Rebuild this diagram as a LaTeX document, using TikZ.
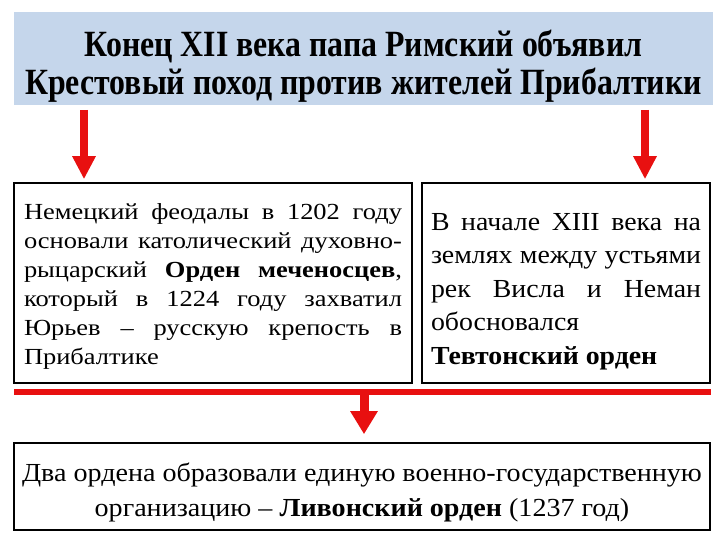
\documentclass[tikz,border=0pt]{standalone}
\usepackage{fontspec}
\setmainfont{Liberation Serif}
\newfontfamily\titlefont[FakeStretch=0.86]{Liberation Serif}
\newfontfamily\boxfont[FakeStretch=1.15]{Liberation Serif}
\newfontfamily\rightfont[FakeStretch=1.07]{Liberation Serif}
\newfontfamily\bottomfont[FakeStretch=1.08]{Liberation Serif}
\usetikzlibrary{positioning, arrows.meta}
\definecolor{titleblue}{RGB}{197,214,235}
\definecolor{arrowred}{RGB}{232,16,16}

\begin{document}
\begin{tikzpicture}[
    x=1pt, y=-1pt,
    title/.style={rectangle, inner sep=0pt, align=center, font=\titlefont\bfseries\fontsize{37}{38}\selectfont},
    textbox/.style={rectangle, draw, line width=1.6pt, inner sep=0pt, minimum height=200pt, align=justify},
    redarrow/.style={draw=arrowred, line width=7.5pt, -{Triangle[width=22pt,length=23pt]}, arrowred, shorten >=3pt},
    redline/.style={draw=arrowred, line width=6pt},
    ]

    \useasboundingbox (0,0) rectangle (720,540);

    \fill[titleblue] (14,12) rectangle (713,105);
    \node[title] (head) at (363.5, 66.5) {Конец XII века папа Римский объявил\\Крестовый поход против жителей Прибалтики};

    \node[textbox, minimum width=398pt, text width=378pt, font=\boxfont\fontsize{23}{29}\selectfont] (sword) at (213, 283) {\rule{0pt}{23pt}Немецкий феодалы в 1202 году\linebreak основали католический духовно-\linebreak рыцарский \textbf{Орден меченосцев},\linebreak который в 1224 году захватил\linebreak Юрьев – русскую крепость в\linebreak Прибалтике};
    \node[textbox, minimum width=288pt, text width=270pt, font=\rightfont\fontsize{26}{33.5}\selectfont] (teuton) at (566, 283) {\rule{0pt}{34pt}В начале XIII века на\linebreak землях между устьями\linebreak рек Висла и Неман\linebreak обосновался\newline \textbf{Тевтонский орден}};

    \coordinate (a1) at (84, 110);
    \coordinate (a2) at (645, 110);
    \draw[redarrow] (a1) -- (sword.north -| a1);
    \draw[redarrow] (a2) -- (teuton.north -| a2);

    \coordinate (lineL) at (14, 392);
    \coordinate (lineR) at (711, 392);
    \coordinate (lineM) at (364, 392);
    \draw[redline] (lineL) -- (lineR);

    \node[textbox, minimum width=696pt, minimum height=87pt, align=center, font=\bottomfont\fontsize{26}{35}\selectfont] (livonia) at (362, 486.5) {\rule{0pt}{30pt}Два ордена образовали единую военно-государственную\\организацию – \textbf{Ливонский орден} (1237 год)};
    \draw[redarrow, line width=9pt, -{Triangle[width=26pt,length=23pt]}, shorten >=8pt] (lineM) -- (livonia.north -| lineM);
\end{tikzpicture}
\end{document}
